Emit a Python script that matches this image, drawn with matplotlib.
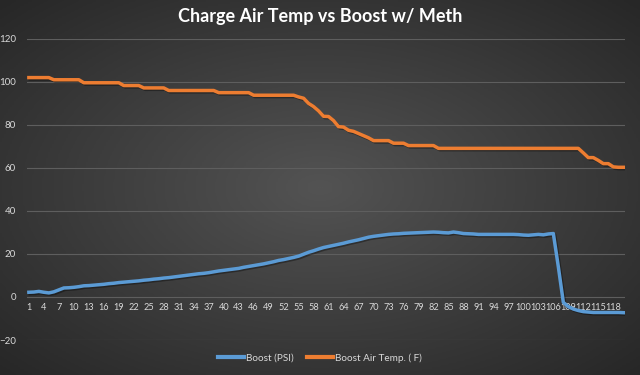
import matplotlib
matplotlib.use('Agg')
import matplotlib.pyplot as plt
import matplotlib.patheffects as pe
import numpy as np

plt.rcParams['font.family'] = ['Lato', 'DejaVu Sans']

# Sample index 1..120
samples = list(range(1, 121))

boost_psi = [
    2.2, 2.3, 2.6, 2.2, 1.9, 2.4, 3.3, 4.2, 4.3, 4.5,
    4.8, 5.2, 5.3, 5.5, 5.7, 5.9, 6.2, 6.4, 6.7, 6.9,
    7.1, 7.3, 7.5, 7.8, 8.0, 8.3, 8.5, 8.8, 9.0, 9.3,
    9.6, 9.9, 10.2, 10.5, 10.8, 11.0, 11.3, 11.7, 12.1, 12.4,
    12.7, 13.0, 13.3, 13.8, 14.2, 14.6, 15.0, 15.4, 15.9, 16.4,
    17.0, 17.4, 17.9, 18.4, 19.0, 19.9, 20.8, 21.5, 22.3, 23.0,
    23.5, 24.0, 24.5, 25.0, 25.6, 26.1, 26.6, 27.2, 27.8, 28.2,
    28.5, 28.8, 29.1, 29.3, 29.4, 29.6, 29.7, 29.8, 29.9, 30.0,
    30.1, 30.2, 30.1, 29.9, 29.8, 30.2, 29.9, 29.5, 29.4, 29.3,
    29.1, 29.1, 29.1, 29.1, 29.1, 29.1, 29.1, 29.1, 29.0, 28.8,
    28.7, 28.9, 29.1, 28.9, 29.3, 29.5, 14.0, -2.5, -4.5, -5.6,
    -6.3, -6.8, -7.0, -7.2, -7.2, -7.2, -7.2, -7.2, -7.2, -7.3,
]

air_temp_f = [
    102, 102, 102, 102, 102, 101, 101, 101, 101, 101,
    101, 99.6, 99.6, 99.6, 99.6, 99.6, 99.6, 99.6, 99.6, 98.3,
    98.3, 98.3, 98.3, 97.2, 97.2, 97.2, 97.2, 97.2, 96, 96,
    96, 96, 96, 96, 96, 96, 96, 96, 95, 95,
    95, 95, 95, 95, 95, 93.8, 93.8, 93.8, 93.8, 93.8,
    93.8, 93.8, 93.8, 93.8, 93, 92.4, 90, 88.5, 86.5, 84,
    83.9, 82, 79.2, 79, 77.5, 77, 76, 75, 74, 72.7,
    72.7, 72.7, 72.7, 71.5, 71.5, 71.5, 70.4, 70.4, 70.4, 70.4,
    70.4, 70.4, 69.1, 69.1, 69.1, 69.1, 69.1, 69.1, 69.1, 69.1,
    69.1, 69.1, 69.1, 69.1, 69.1, 69.1, 69.1, 69.1, 69.1, 69.1,
    69.1, 69.1, 69.1, 69.1, 69.1, 69.1, 69.1, 69.1, 69.1, 69.1,
    69.1, 67, 64.8, 64.8, 63.5, 62, 62, 60.5, 60.3, 60.3,
]

y_ticks = [-20, 0, 20, 40, 60, 80, 100, 120]
x_tick_labels = samples[::3]

fig = plt.figure(figsize=(6.4, 3.75), dpi=100)

# dark radial gradient background, Excel style
bg = fig.add_axes([0, 0, 1, 1], zorder=0)
gx, gy = np.meshgrid(np.linspace(-1, 1, 320), np.linspace(-1, 1, 190))
r = np.clip(np.sqrt(gx**2 + gy**2) / np.sqrt(2), 0, 1)
bg.imshow(r, cmap=matplotlib.colors.LinearSegmentedColormap.from_list(
    'bg', ['#535353', '#3d3d3d', '#272727']), aspect='auto', extent=[0, 1, 0, 1])
bg.axis('off')

ax = fig.add_axes([0.042, 0.0933, 0.935, 0.803], zorder=1)
ax.patch.set_alpha(0)

shadow = [pe.SimpleLineShadow(offset=(1, -1), shadow_color='black', alpha=0.35), pe.Normal()]
ax.plot(samples, boost_psi, color='#5b9bd5', lw=2.5, label='Boost (PSI)',
        solid_joinstyle='round', path_effects=shadow)
ax.plot(samples, air_temp_f, color='#ed7d31', lw=2.5, label='Boost Air Temp. ( F)',
        solid_joinstyle='round', path_effects=shadow)

ax.set_ylim(-20, 120)
ax.set_xlim(0.6, 120.4)
ax.set_yticks(y_ticks)
ax.set_xticks(x_tick_labels)
ax.set_xticklabels([str(v) for v in x_tick_labels])
ax.grid(axis='y', color='#5e5e5e', lw=0.8)
ax.set_axisbelow(True)
for s in ax.spines.values():
    s.set_visible(False)
ax.spines['bottom'].set_position(('data', 0))
ax.tick_params(axis='both', length=0, labelsize=7, labelcolor='#d9d9d9')
ax.tick_params(axis='x', pad=4, labelsize=6.6)
ax.tick_params(axis='y', pad=8)

fig.text(0.5, 0.955, 'Charge Air Temp vs Boost w/ Meth', ha='center', va='center',
         color='white', fontsize=13, fontweight='bold')

leg = fig.legend(loc='center', bbox_to_anchor=(0.5, 0.045), ncol=2, frameon=False,
                 fontsize=7.2, labelcolor='#d9d9d9', handlelength=2.6, handletextpad=0.2,
                 columnspacing=1.4)
for line in leg.get_lines():
    line.set_linewidth(3)
    line.set_path_effects([])

fig.savefig('out.png', dpi=100)
